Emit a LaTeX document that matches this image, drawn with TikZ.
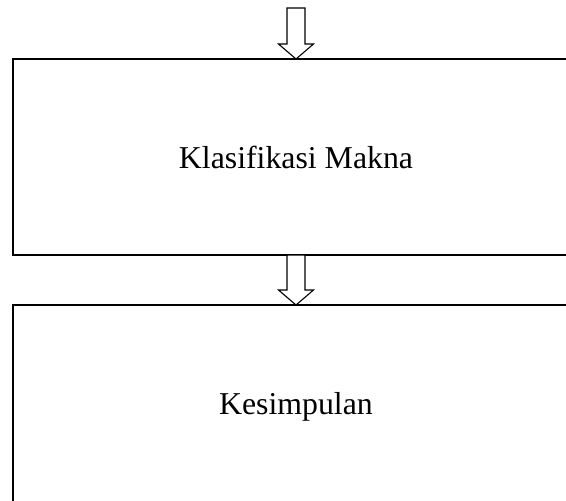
\documentclass[tikz,border=0pt]{standalone}
\usepackage{fontspec}
\setmainfont{Liberation Serif}
\usetikzlibrary{positioning, calc}

\begin{document}
\begin{tikzpicture}[x=0.5pt, y=-0.5pt]
      \useasboundingbox (0,0) rectangle (566,500);
      \begin{scope}[every node/.style={outer sep=0, inner sep=0}, stage/.style={draw=black, line width=0.9pt, minimum width=283.25pt, minimum height=98pt, font=\fontsize{15.9}{19}\selectfont}, hollow/.style={draw=black, line width=0.55pt, fill=white, line join=miter}]
        \node [stage] (K) at (296,157) {Klasifikasi Makna};
        \node [stage, minimum height=102pt, below=25pt of K] (S) {Kesimpulan};
        \coordinate (T) at (296,8);
        \foreach \a/\b in {T/K.north, K.south/S.north} {
          \draw [hollow] ($(\a)+(-9,0)$) -- ($(\b)+(-9,-15)$) -- ($(\b)+(-17.5,-15)$) -- (\b) -- ($(\b)+(17.5,-15)$) -- ($(\b)+(9,-15)$) -- ($(\a)+(9,0)$) -- cycle;
        };
      \end{scope}
    \end{tikzpicture}
\end{document}
